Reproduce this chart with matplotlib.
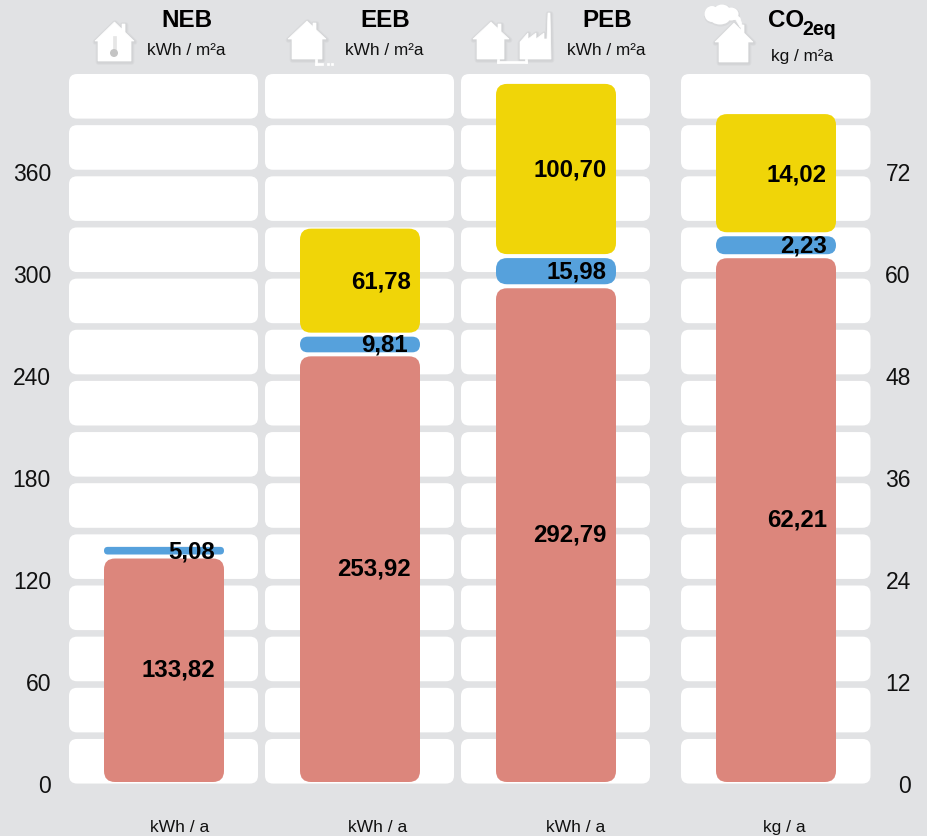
import matplotlib
matplotlib.use("Agg")
import matplotlib.pyplot as plt
from matplotlib.patches import FancyBboxPatch, Polygon, Ellipse

plt.rcParams['font.family'] = ['Liberation Sans', 'DejaVu Sans']

# dados
categorias = ["NEB", "EEB", "PEB"]
vermelho = [133.82, 253.92, 292.79, 62.21]
azul = [5.08, 9.81, 15.98, 2.23]
amarelo = [0, 61.78, 100.70, 14.02]
rotulos_verm = ["133,82", "253,92", "292,79", "62,21"]
rotulos_azul = ["5,08", "9,81", "15,98", "2,23"]
rotulos_amar = ["", "61,78", "100,70", "14,02"]
unidade_cima = ["kWh / m²a", "kWh / m²a", "kWh / m²a", "kg / m²a"]
unidade_baixo = ["kWh / a", "kWh / a", "kWh / a", "kg / a"]
ticks_esq = [0, 60, 120, 180, 240, 300, 360]
ticks_dir = [0, 12, 24, 36, 48, 60, 72]

FUNDO = "#e1e2e4"
W, H = 927, 836
PX = 1.7      # pixels por kWh
Y0 = 784      # pixel do zero

fig = plt.figure(figsize=(W / 100, H / 100), dpi=100, facecolor=FUNDO)
ax = fig.add_axes([69 / W, 0, (871 - 69) / W, 1])
ax.set_xlim(69, 871)
ax.set_ylim(-(H - Y0) / PX, Y0 / PX)
ax.set_facecolor("none")
ax2 = ax.twinx()
ax2.set_ylim(-(H - Y0) / PX / 5, Y0 / PX / 5)

for a in (ax, ax2):
    for s in a.spines.values():
        s.set_visible(False)
    a.set_xticks([])
ax.set_yticks(ticks_esq)
ax.tick_params(axis="y", length=0, pad=13, labelsize=16.5, labelcolor="#111111")
ax2.set_yticks(ticks_dir)
ax2.tick_params(axis="y", length=0, pad=28.7, labelsize=16.5, labelcolor="#111111")
for t in ax2.get_yticklabels():
    t.set_ha("right")


def val(py):
    return (Y0 - py) / PX


def caixa(a, esc, x0, x1, p0, p1, cor, raio, z=2):
    # p0 e p1 em pixels acima do zero
    ax_ = 1 / esc
    a.add_patch(FancyBboxPatch((x0 + raio, (p0 + raio) / esc), x1 - x0 - 2 * raio,
                               (p1 - p0 - 2 * raio) / esc,
                               boxstyle=f"round,pad={raio},rounding_size={raio}",
                               mutation_aspect=ax_, fc=cor, ec="none", zorder=z))


# colunas brancas de fundo
colunas = [(69, 258), (265, 454), (461, 650), (681, 870.5)]
for x0, x1 in colunas:
    for i in range(14):
        topo = 74 + 51.15 * i
        caixa(ax, PX, x0, x1, Y0 - topo - 44.6, Y0 - topo, "white", 8)

# barras empilhadas
barras = [(104, 224), (300, 420), (496, 616), (716, 836)]
sobe = [2, 0, 2, 1]
ajuste_x = [0, -3, 0, 0]
fonte = dict(fontsize=17.3, fontweight="bold", color="black", zorder=6,
             ha="right", va="center_baseline")
for i, (x0, x1) in enumerate(barras):
    a = ax2 if i == 3 else ax
    esc = PX * 5 if i == 3 else PX
    xr = x0 + 111
    topo_v = vermelho[i] * esc
    base_az = topo_v + sobe[i]
    topo_az = base_az + azul[i] * esc - 1
    base_am = topo_az + 4
    topo_am = base_am + amarelo[i] * esc - 1

    caixa(a, esc, x0, x1, 2, base_az - 4, "#dc867c", 11, 3)
    caixa(a, esc, x0, x1, base_az, topo_az, "#56a1dc", min(11, (topo_az - base_az) / 2), 3)
    a.text(xr, ((2 + base_az - 4) / 2 + 3) / esc, rotulos_verm[i], **fonte)
    a.text(xr + ajuste_x[i], ((base_az + topo_az) / 2 + 1.5) / esc, rotulos_azul[i], **fonte)
    if amarelo[i] > 0:
        caixa(a, esc, x0, x1, base_am, topo_am, "#f0d508", 11, 3)
        a.text(xr, ((base_am + topo_am) / 2 + 1) / esc, rotulos_amar[i], **fonte)

# cabecalhos
xt = [187, 385, 607]
xu = [186, 384, 606, 802]
yu = [49, 49, 49, 55]
xb = [180, 378, 576, 784]
for i in range(3):
    ax.text(xt[i], val(18), categorias[i], fontsize=17.4, fontweight="bold",
            ha="center", va="center_baseline")
for i in range(4):
    ax.text(xu[i], val(yu[i]), unidade_cima[i], fontsize=12.4, ha="center",
            va="center_baseline", color="#111111")
    ax.text(xb[i], val(826), unidade_baixo[i], fontsize=12.6, ha="center",
            va="center_baseline", color="#111111")
ax.text(768, val(18), "CO", fontsize=17.4, fontweight="bold", ha="left", va="center_baseline")
ax.text(802, val(27.5), "2eq", fontsize=14.2, fontweight="bold", ha="left", va="center_baseline")


# icones
def poly(pts, cor="white", z=4, sombra=True):
    p = [(x, val(y)) for x, y in pts]
    if sombra:
        for lw in (6, 4.5, 3):
            s = [(x + 0.5, val(y + 1)) for x, y in pts]
            ax.add_patch(Polygon(s, closed=True, fc="none", ec="black", lw=lw * 0.72,
                                 alpha=0.018, zorder=z - 0.5, joinstyle="round"))
    ax.add_patch(Polygon(p, closed=True, fc=cor, ec=cor, lw=0.5, zorder=z))


def casa(x0, x1, xb0, xb1, ybeiral, topo, base, xch):
    meio = (x0 + x1) / 2
    larg = (x1 - meio)
    ych = topo + (xch - meio) / larg * (ybeiral - topo)
    poly([(x0, ybeiral), (meio, topo), (xch, ych), (xch, topo + 2), (xch + 3, topo + 2),
          (xch + 3, ych + 3), (x1, ybeiral), (xb1, ybeiral), (xb1, base), (xb0, base), (xb0, ybeiral)])


def retang(x0, y0, x1, y1, cor="white", z=4, sombra=False):
    poly([(x0, y0), (x1, y0), (x1, y1), (x0, y1)], cor, z, sombra)


def bola(cx, cy, lx, ly, cor="white", z=4):
    ax.add_patch(Ellipse((cx, val(cy)), lx, ly / PX, fc=cor, ec="none", zorder=z))


# NEB
casa(95, 134, 98, 131, 41, 22, 61, 122)
retang(112.5, 36, 115.5, 52, "#e6e6e6", 5)
bola(114, 53, 8, 8, "#c4c4c4", 5)

# EEB
casa(288, 326, 292, 322, 39, 21, 59, 313)
retang(314.5, 59, 316.5, 65, "white", 5)
retang(315, 63, 323, 65, "white", 5)
retang(327, 63, 329, 65, "white", 5)
retang(331, 63, 333, 65, "white", 5)

# PEB
casa(473, 509, 477, 504, 39, 22, 59, 498)
poly([(520, 42), (528, 33), (528, 39), (536, 33), (536, 39), (544, 33), (544, 39), (547, 39),
      (548, 13), (550, 13), (551, 59), (520, 59)])
retang(497, 59, 499, 63)
retang(497, 61, 527, 63)
retang(525, 59, 527, 63)

# CO2
casa(715, 753, 719, 748, 42, 23, 62, 741)
nuvem = [(712, 14, 15, 16), (722, 11, 16, 13), (731, 14, 15, 13), (720, 18, 20, 13)]
for cx, cy, lx, ly in nuvem:
    bola(cx + 0.5, cy + 1, lx + 2, ly + 2, "#d8d9db", 3.5)
for cx, cy, lx, ly in nuvem:
    bola(cx, cy, lx, ly)
poly([(733, 12), (740, 18), (743, 28), (740, 27), (736, 20), (730, 18)], "white", 4, False)

plt.savefig("out.png", dpi=100, facecolor=FUNDO)
